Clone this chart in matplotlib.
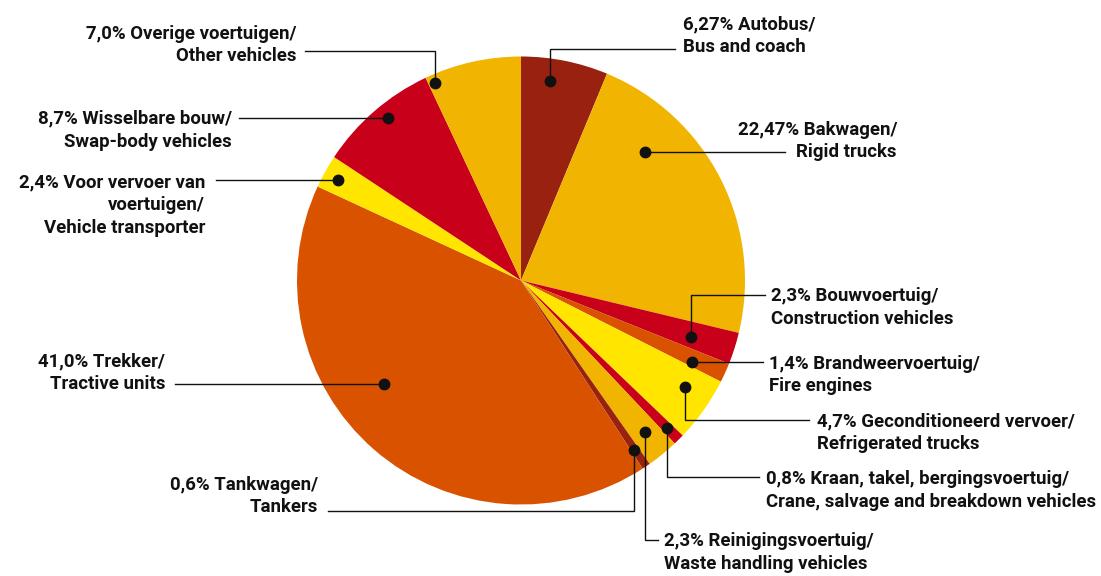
import numpy as np
import matplotlib
matplotlib.use("Agg")
import matplotlib.pyplot as plt
from matplotlib import font_manager

# shares in %, clockwise from 12 o'clock
labels = [
    "6,27% Autobus/\nBus and coach",
    "22,47% Bakwagen/\nRigid trucks",
    "2,3% Bouwvoertuig/\nConstruction vehicles",
    "1,4% Brandweervoertuig/\nFire engines",
    "4,7% Geconditioneerd vervoer/\nRefrigerated trucks",
    "0,8% Kraan, takel, bergingsvoertuig/\nCrane, salvage and breakdown vehicles",
    "2,3% Reinigingsvoertuig/\nWaste handling vehicles",
    "0,6% Tankwagen/\nTankers",
    "41,0% Trekker/\nTractive units",
    "2,4% Voor vervoer van\nvoertuigen/\nVehicle transporter",
    "8,7% Wisselbare bouw/\nSwap-body vehicles",
    "7,0% Overige voertuigen/\nOther vehicles",
]
shares = [6.27, 22.47, 2.3, 1.4, 4.7, 0.8, 2.3, 0.6, 41.0, 2.4, 8.7, 7.0]

DARK, AMBER, RED, ORANGE, YELLOW = "#98210f", "#f1b400", "#c9001a", "#d85200", "#ffe500"
colors = [DARK, AMBER, RED, ORANGE, YELLOW, RED, AMBER, DARK, ORANGE, YELLOW, RED, AMBER]

# layout, in pixels of the 1101x576 picture (y downwards)
W, H = 1101, 576
cx, cy, R = 521, 280.5, 224
# dot: (angle clockwise from top, fraction of radius)
dots = [(8.3, 0.90), (44.0, 0.80), (108.5, 0.80), (115.4, 0.845), (122.9, 0.873),
        (135.3, 0.929), (140.7, 0.874), (146.2, 0.91), (232.8, 0.767), (298.7, 0.93),
        (320.7, 0.94), (336.4, 0.96)]
# elbow y (None = straight), line end x, text x, text centre y, alignment
leaders = [
    (49, 675, 683, 35.5, "left"),
    (None, 785, 897, 141, "right"),
    (295, 765, 771, 307.5, "left"),
    (None, 763, 769, 375, "left"),
    (420, 809, 817, 432.5, "left"),
    (477, 759, 766, 490.5, "left"),
    (540, 658, 664, 552.5, "left"),
    (510.7, 328, 318, 496, "right"),
    (None, 175, 165, 373, "right"),
    (None, 216, 205, 205, "right"),
    (None, 238.5, 232, 130.3, "right"),
    (51, 305, 296, 45, "right"),
]

names = {f.name for f in font_manager.fontManager.ttflist}
fam = "Roboto" if "Roboto" in names else "DejaVu Sans"
font = dict(family=fam, weight="bold")

def Y(y):
    return H - y

fig = plt.figure(figsize=(W / 100, H / 100), dpi=100)
ax = fig.add_axes([0, 0, 1, 1])
ax.pie(shares, colors=colors, startangle=90, counterclock=False,
       center=(cx, Y(cy)), radius=R, wedgeprops=dict(linewidth=0))
ax.set_xlim(0, W)
ax.set_ylim(0, H)
ax.set_aspect("equal")
ax.axis("off")

for lab, (ang, rf), (ey, ex, tx, ty, ha) in zip(labels, dots, leaders):
    a = np.deg2rad(ang)
    dx = cx + R * rf * np.sin(a)
    dy = cy - R * rf * np.cos(a)
    if ey is None:
        xs, ys = [dx, ex], [dy, dy]
    else:
        xs, ys = [dx, dx, ex], [dy, ey, ey]
    ax.plot(xs, [Y(v) for v in ys], color="#111111", lw=1.0, solid_joinstyle="miter")
    ax.plot(dx, Y(dy), "o", color="#111111", ms=7.5)
    ax.text(tx, Y(ty), lab, ha=ha, va="center", multialignment=ha,
            fontsize=13.4, linespacing=1.35, color="#111111", **font)

fig.savefig("out.png", dpi=100)
